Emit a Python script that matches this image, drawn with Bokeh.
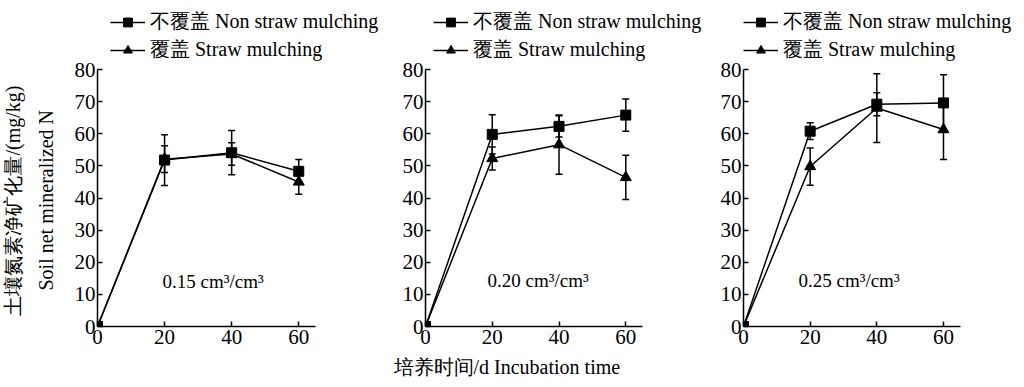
from bokeh.plotting import figure
from bokeh.models import (Range1d, FixedTicker, Legend, LegendItem, Title,
                          Whisker, ColumnDataSource, Label, TeeHead)
from bokeh.layouts import row
from bokeh.embed import file_html
from bokeh.resources import INLINE

# ---------------- data ----------------
days = [0, 20, 40, 60]
x_ticks = [0, 20, 40, 60]
y_ticks = [0, 10, 20, 30, 40, 50, 60, 70, 80]

legend_non = "不覆盖 Non straw mulching"
legend_straw = "覆盖 Straw mulching"
moisture_labels = ["0.15 cm³/cm³", "0.20 cm³/cm³", "0.25 cm³/cm³"]
y_title_cn = "土壤氮素净矿化量/(mg/kg)"
y_title_en = "Soil net mineralized N"
x_title = "培养时间/d Incubation time"

non_015 = [0, 51.8, 54.1, 48.3]
non_015_err = [0, 7.9, 6.9, 3.7]
straw_015 = [0, 52.1, 53.7, 45.0]
straw_015_err = [0, 4.2, 3.5, 3.8]

non_020 = [0, 59.8, 62.3, 65.8]
non_020_err = [0, 6.1, 3.3, 5.0]
straw_020 = [0, 52.3, 56.6, 46.4]
straw_020_err = [0, 3.6, 9.2, 6.9]

non_025 = [0, 60.8, 69.2, 69.6]
non_025_err = [0, 2.6, 3.6, 8.8]
straw_025 = [0, 49.8, 68.0, 61.3]
straw_025_err = [0, 5.8, 10.7, 9.3]

# ---------------- style / layout ----------------
FONT = "Liberation Serif"
FRAME_H = 326
Y_PX = 3.2125            # pixels per y unit
BOTTOM = 61

panels = [
    dict(non=non_015, non_err=non_015_err, straw=straw_015, straw_err=straw_015_err,
         label=moisture_labels[0], x_px=3.354, frame_w=293, b_left=97,
         legend_dx=13, ann_x=19.4, ann_y=14.0),
    dict(non=non_020, non_err=non_020_err, straw=straw_020, straw_err=straw_020_err,
         label=moisture_labels[1], x_px=3.338, frame_w=287, b_left=35,
         legend_dx=8, ann_x=18.6, ann_y=14.3),
    dict(non=non_025, non_err=non_025_err, straw=straw_025, straw_err=straw_025_err,
         label=moisture_labels[2], x_px=3.333, frame_w=273, b_left=31,
         legend_dx=0, ann_x=16.5, ann_y=14.3),
]

figs = []
for i, cfg in enumerate(panels):
    p = figure(frame_width=cfg["frame_w"], frame_height=FRAME_H,
               x_range=Range1d(0, cfg["frame_w"] / cfg["x_px"]),
               y_range=Range1d(0, FRAME_H / Y_PX),
               output_backend="svg", toolbar_location=None,
               min_border_left=cfg["b_left"], min_border_right=0,
               min_border_top=0, min_border_bottom=BOTTOM)
    p.grid.visible = False
    p.outline_line_color = None
    p.background_fill_color = "white"
    p.border_fill_color = "white"

    p.xaxis.ticker = FixedTicker(ticks=x_ticks)
    p.yaxis.ticker = FixedTicker(ticks=y_ticks)
    p.xaxis.bounds = (0, 65)
    p.yaxis.bounds = (0, 80)
    p.axis.major_tick_in = 5
    p.axis.major_tick_out = 0
    p.axis.minor_tick_in = 0
    p.axis.minor_tick_out = 0
    p.axis.axis_line_width = 1.5
    p.axis.major_tick_line_width = 1.5
    p.axis.axis_line_color = "black"
    p.axis.major_tick_line_color = "black"
    p.axis.major_label_text_font = FONT
    p.axis.major_label_text_font_size = "21px"
    p.axis.major_label_text_color = "black"
    p.xaxis.major_label_standoff = 3
    p.yaxis.major_label_standoff = 2

    if i == 0:
        p.add_layout(Title(text=y_title_en, align="left", offset=36, standoff=29,
                           text_font=FONT, text_font_size="20px",
                           text_font_style="normal", text_color="black"), "left")
        p.add_layout(Title(text=y_title_cn, align="left", offset=11, standoff=-11,
                           text_font=FONT, text_font_size="20px",
                           text_font_style="normal", text_color="black"), "left")
    if i == 1:
        p.add_layout(Title(text=x_title, align="left", offset=-32, standoff=14,
                           text_font=FONT, text_font_size="20px",
                           text_font_style="normal", text_color="black"), "below")

    src_non = ColumnDataSource(dict(x=days, y=cfg["non"],
                                    lo=[a - b for a, b in zip(cfg["non"], cfg["non_err"])],
                                    hi=[a + b for a, b in zip(cfg["non"], cfg["non_err"])]))
    src_straw = ColumnDataSource(dict(x=days, y=cfg["straw"],
                                      lo=[a - b for a, b in zip(cfg["straw"], cfg["straw_err"])],
                                      hi=[a + b for a, b in zip(cfg["straw"], cfg["straw_err"])]))

    for src in (src_non, src_straw):
        w = Whisker(source=src, base="x", upper="hi", lower="lo",
                    line_color="black", line_width=1.5,
                    upper_head=TeeHead(size=7, line_color="black", line_width=1.5),
                    lower_head=TeeHead(size=7, line_color="black", line_width=1.5))
        p.add_layout(w)

    l_non = p.line("x", "y", source=src_non, line_color="black", line_width=1.5)
    m_non = p.scatter("x", "y", source=src_non, marker="square", size=10,
                      fill_color="black", line_color="black")
    l_straw = p.line("x", "y", source=src_straw, line_color="black", line_width=1.5)
    m_straw = p.scatter("x", "y", source=src_straw, marker="triangle", size=11,
                        fill_color="black", line_color="black")

    legend = Legend(items=[LegendItem(label=legend_non, renderers=[l_non, m_non]),
                           LegendItem(label=legend_straw, renderers=[l_straw, m_straw])],
                    location=(cfg["legend_dx"], FRAME_H - 63),
                    orientation="vertical", glyph_width=35, glyph_height=22,
                    label_height=22, label_standoff=5, spacing=1, padding=0, margin=0,
                    border_line_color=None, background_fill_alpha=0,
                    label_text_font=FONT, label_text_font_size="20px",
                    label_text_color="black")
    p.add_layout(legend)

    p.add_layout(Label(x=cfg["ann_x"], y=cfg["ann_y"], text=cfg["label"],
                       text_font=FONT, text_font_size="19px", text_align="left",
                       text_baseline="middle", text_color="black"))
    figs.append(p)

layout = row(*figs, spacing=0)
open("out.html", "w").write(file_html(layout, INLINE))
